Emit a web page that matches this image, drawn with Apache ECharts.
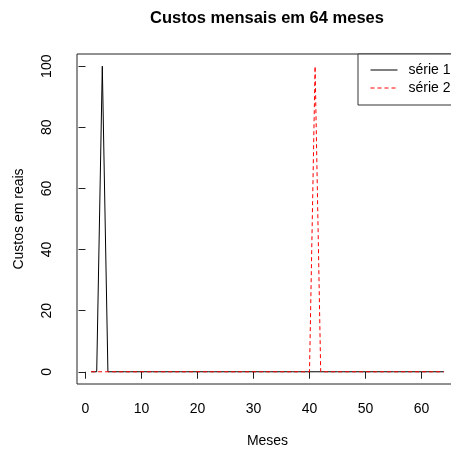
<!DOCTYPE html>
<html>
<head>
<meta charset="utf-8">
<script src="https://cdn.jsdelivr.net/npm/echarts@6/dist/echarts.min.js"></script>
<style>
html,body{margin:0;padding:0;background:#fff;}
#chart{width:451px;height:450px;}
</style>
</head>
<body>
<div id="chart"></div>
<script>
var months = [1,2,3,4,5,6,7,8,9,10,11,12,13,14,15,16,17,18,19,20,21,22,23,24,25,26,27,28,29,30,31,32,
  33,34,35,36,37,38,39,40,41,42,43,44,45,46,47,48,49,50,51,52,53,54,55,56,57,58,59,60,61,62,63,64];
var serie1 = [0,0,100,0,0,0,0,0,0,0,0,0,0,0,0,0,0,0,0,0,0,0,0,0,0,0,0,0,0,0,0,0,
  0,0,0,0,0,0,0,0,0,0,0,0,0,0,0,0,0,0,0,0,0,0,0,0,0,0,0,0,0,0,0,0];
var serie2 = [0,0,0,0,0,0,0,0,0,0,0,0,0,0,0,0,0,0,0,0,0,0,0,0,0,0,0,0,0,0,0,0,
  0,0,0,0,0,0,0,0,100,0,0,0,0,0,0,0,0,0,0,0,0,0,0,0,0,0,0,0,0,0,0,0];
var xTicks = [0,10,20,30,40,50,60];
var yTicks = [0,20,40,60,80,100];
var seriesNames = ['série 1','série 2'];
var titleText = 'Custos mensais em 64 meses';
var xName = 'Meses';
var yName = 'Custos em reais';

function pairs(xs, ys){ return xs.map(function(x,i){ return [x, ys[i]]; }); }

var FONT = 'Liberation Sans, Arial, sans-serif';
var chart = echarts.init(document.getElementById('chart'), null, {renderer:'canvas'});
chart.setOption({
  animation:false,
  backgroundColor:'#fff',
  title:{
    text:titleText, left:262, top:5, textAlign:'center',
    textStyle:{fontFamily:FONT, fontWeight:'bold', fontSize:16.5, color:'#000'}
  },
  legend:{
    orient:'vertical', left:358, top:54,
    data:seriesNames,
    itemWidth:27, itemHeight:14, itemGap:4,
    padding:[9,30,10,12],
    borderColor:'#333', borderWidth:1, borderRadius:0,
    backgroundColor:'#fff',
    itemStyle:{opacity:0},
    lineStyle:{width:1},
    textStyle:{fontFamily:FONT, fontSize:14, color:'#000', padding:[0,0,0,6]}
  },
  grid:{
    left:77, top:54, width:381, height:330,
    show:true, borderColor:'#222', borderWidth:1, containLabel:false,
    outerBoundsMode:'none'
  },
  xAxis:{
    type:'value', min:-1.52, max:66.52,
    name:xName, nameLocation:'middle', nameGap:50,
    nameTextStyle:{fontFamily:FONT, fontSize:14, color:'#000'},
    axisLine:{show:false},
    axisTick:{show:true, inside:false, length:7, customValues:xTicks, lineStyle:{color:'#222'}},
    axisLabel:{show:true, customValues:xTicks, margin:18, fontFamily:FONT, fontSize:14, color:'#000'},
    splitLine:{show:false}
  },
  yAxis:{
    type:'value', min:-4, max:104,
    name:yName, nameLocation:'middle', nameGap:51,
    nameTextStyle:{fontFamily:FONT, fontSize:14, color:'#000'},
    axisLine:{show:false},
    axisTick:{show:true, inside:false, length:7, customValues:yTicks, lineStyle:{color:'#222'}},
    axisLabel:{show:true, customValues:yTicks, margin:23, rotate:90, align:'center', verticalAlign:'bottom',
      fontFamily:FONT, fontSize:14, color:'#000'},
    splitLine:{show:false}
  },
  series:[
    {name:seriesNames[0], type:'line', data:pairs(months, serie1), symbol:'none', showSymbol:false,
     lineStyle:{color:'#000', width:1, type:'solid'}, itemStyle:{color:'#000'}, z:2},
    {name:seriesNames[1], type:'line', data:pairs(months, serie2), symbol:'none', showSymbol:false,
     lineStyle:{color:'#ff0000', width:1, type:[4,3]}, itemStyle:{color:'#ff0000'}, z:3}
  ]
});
</script>
</body>
</html>
